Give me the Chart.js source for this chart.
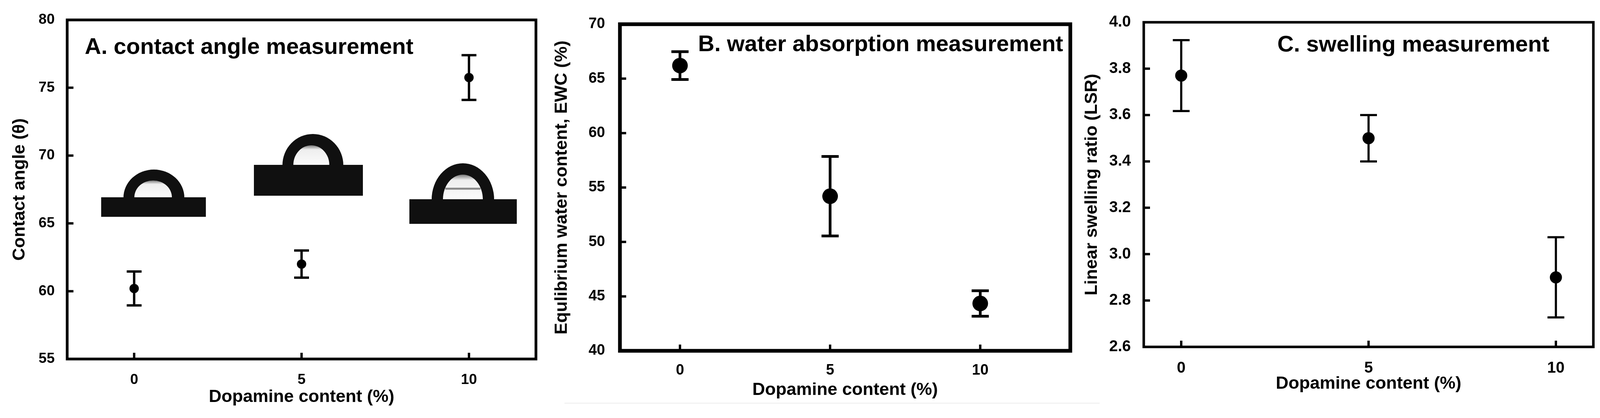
<!DOCTYPE html>
<html>
<head>
<meta charset="utf-8">
<script src="https://cdn.jsdelivr.net/npm/chart.js@4.4.1/dist/chart.umd.min.js"></script>
<style>
    body { margin: 0; background: #fff; }
    #wrap { position: relative; width: 4108px; height: 1070px; overflow: hidden; background: #fff; }
    canvas { position: absolute; top: 0; }
    #chartA { left: 0; }
    #chartB { left: 1400px; }
    #chartC { left: 2760px; }
    .scanline { position: absolute; left: 1445px; top: 1031px; width: 1370px; height: 2px; background: #ececec; }
</style>
</head>
<body>
<div id="wrap">
    <canvas id="chartA" width="1400" height="1070"></canvas>
    <canvas id="chartB" width="1360" height="1070"></canvas>
    <canvas id="chartC" width="1348" height="1070"></canvas>
    <div class="scanline"></div>
</div>
<script>
// data
const dopamine = [0, 5, 10];
const xTickValues = [0, 5, 10];

const contactAngle = [60.2, 62.0, 75.75];
const contactAngleErr = [1.25, 1.0, 1.65];
const angleTicks = [55, 60, 65, 70, 75, 80];

const waterContent = [66.2, 54.2, 44.35];
const waterContentErr = [1.28, 3.65, 1.17];
const ewcTicks = [40, 45, 50, 55, 60, 65, 70];

const swellingRatio = [3.77, 3.50, 2.90];
const swellingRatioErr = [0.153, 0.10, 0.173];
const lsrTicks = [2.6, 2.8, 3.0, 3.2, 3.4, 3.6, 3.8, 4.0];

const FONT = "'Liberation Sans', Arial, Helvetica, sans-serif";

// droplet photos of panel A (offsets from the plot area corner)
const dropletInsets = [
    { rect: [87, 454, 355, 504], cx: 222, rx: 78, ry: 72, icx: 220, irx: 48, iry: 43 },
    { rect: [478, 371, 757, 450], cx: 629, rx: 78, ry: 80, icx: 625, irx: 46, iry: 50 },
    { rect: [876, 459, 1151, 522], cx: 1013, rx: 80, ry: 93, icx: 1013, irx: 51, iry: 63, streak: 27 }
];

const panelDecor = {
    id: "panelDecor",
    beforeDatasetsDraw(chart, args, opts) {
        const ctx = chart.ctx, a = chart.chartArea;
        const xs = chart.scales.x, ys = chart.scales.y;
        ctx.save();
        if (opts.insets) {
            dropletInsets.forEach(d => {
                const x0 = a.left + d.rect[0], y0 = a.top + d.rect[1];
                ctx.fillStyle = "#101010";
                ctx.fillRect(x0, y0, d.rect[2] - d.rect[0], d.rect[3] - d.rect[1]);
                ctx.beginPath();
                ctx.ellipse(a.left + d.cx, y0 + 1, d.rx, d.ry, 0, Math.PI, 2 * Math.PI);
                ctx.fill();
                const g = ctx.createLinearGradient(0, y0 - d.iry, 0, y0);
                g.addColorStop(0, "#7a7a7a");
                g.addColorStop(0.22, "#eeeeee");
                g.addColorStop(1, "#fbfbfb");
                ctx.fillStyle = g;
                ctx.beginPath();
                ctx.ellipse(a.left + d.icx, y0, d.irx, d.iry, 0, Math.PI, 2 * Math.PI);
                ctx.fill();
                if (d.streak) {
                    ctx.strokeStyle = "#888";
                    ctx.lineWidth = 5;
                    ctx.beginPath();
                    ctx.moveTo(a.left + d.icx - d.irx + 6, y0 - d.streak);
                    ctx.lineTo(a.left + d.icx + d.irx - 6, y0 - d.streak);
                    ctx.stroke();
                }
            });
        }
        // error bars
        const ds = chart.data.datasets[0];
        ctx.strokeStyle = "#000";
        ctx.lineWidth = opts.errWidth;
        ctx.lineCap = "butt";
        ds.data.forEach((p, i) => {
            const px = xs.getPixelForValue(p.x);
            const top = ys.getPixelForValue(p.y + ds.errors[i]);
            const bot = ys.getPixelForValue(p.y - ds.errors[i]);
            ctx.beginPath();
            ctx.moveTo(px, top);
            ctx.lineTo(px, bot);
            ctx.moveTo(px - opts.capHalf, top);
            ctx.lineTo(px + opts.capHalf, top);
            ctx.moveTo(px - opts.capHalf, bot);
            ctx.lineTo(px + opts.capHalf, bot);
            ctx.stroke();
        });
        ctx.restore();
    },
    afterDraw(chart, args, opts) {
        const ctx = chart.ctx, a = chart.chartArea;
        const xs = chart.scales.x, ys = chart.scales.y;
        ctx.save();
        ctx.strokeStyle = "#000";
        ctx.lineWidth = opts.frame;
        ctx.strokeRect(a.left, a.top, a.right - a.left, a.bottom - a.top);
        // inward tick marks
        ctx.lineWidth = 6;
        ctx.beginPath();
        ys.ticks.forEach(t => {
            const py = ys.getPixelForValue(t.value);
            ctx.moveTo(a.left, py);
            ctx.lineTo(a.left + 16, py);
        });
        xs.ticks.forEach(t => {
            const px = xs.getPixelForValue(t.value);
            ctx.moveTo(px, a.bottom);
            ctx.lineTo(px, a.bottom - 16);
        });
        ctx.stroke();
        // panel label
        ctx.fillStyle = "#000";
        ctx.font = "bold 58px " + FONT;
        ctx.textBaseline = "alphabetic";
        ctx.textAlign = "left";
        ctx.fillText(opts.label, opts.labelX, opts.labelY);
        ctx.restore();
    }
};

function makePanel(id, values, errors, yTicks, yTitle, lay) {
    return new Chart(id, {
        type: "scatter",
        data: {
            datasets: [{
                data: dopamine.map((d, i) => ({ x: d, y: values[i] })),
                errors: errors,
                backgroundColor: "#000",
                borderWidth: 0,
                pointRadius: lay.radius,
                pointHoverRadius: lay.radius
            }]
        },
        options: {
            responsive: false,
            animation: false,
            devicePixelRatio: 1,
            events: [],
            layout: { padding: { top: lay.top, right: lay.right, bottom: 0, left: 0 } },
            plugins: {
                legend: { display: false },
                tooltip: { enabled: false },
                panelDecor: {
                    frame: lay.frame,
                    errWidth: lay.errWidth,
                    capHalf: lay.capHalf,
                    label: lay.label,
                    labelX: lay.labelX,
                    labelY: lay.labelY,
                    insets: lay.insets
                }
            },
            scales: {
                x: {
                    type: "linear",
                    position: "bottom",
                    min: lay.xMin,
                    max: lay.xMax,
                    afterBuildTicks: s => { s.ticks = xTickValues.map(v => ({ value: v })); },
                    afterFit: s => { s.height = 1070 - lay.bottom; },
                    grid: { display: false },
                    border: { display: false },
                    ticks: {
                        color: "#000",
                        padding: lay.xTickPad,
                        maxRotation: 0,
                        autoSkip: false,
                        font: { family: FONT, size: lay.tickSize, weight: "bold" }
                    },
                    title: {
                        display: true,
                        text: "Dopamine content (%)",
                        color: "#000",
                        font: { family: FONT, size: 45, weight: "bold" },
                        padding: { top: 0, bottom: lay.xTitlePad }
                    }
                },
                y: {
                    min: yTicks[0],
                    max: yTicks[yTicks.length - 1],
                    afterBuildTicks: s => { s.ticks = yTicks.map(v => ({ value: v })); },
                    afterFit: s => { s.width = lay.left; },
                    grid: { display: false },
                    border: { display: false },
                    ticks: {
                        color: "#000",
                        padding: lay.yTickPad,
                        autoSkip: false,
                        font: { family: FONT, size: lay.tickSize, weight: "bold" },
                        callback: v => lay.decimals ? v.toFixed(lay.decimals) : v
                    },
                    title: {
                        display: true,
                        text: yTitle,
                        color: "#000",
                        font: { family: FONT, size: 45, weight: "bold" },
                        padding: { top: lay.yTitlePad, bottom: 0 }
                    }
                }
            }
        },
        plugins: [panelDecor]
    });
}

makePanel("chartA", contactAngle, contactAngleErr, angleTicks, "Contact angle (θ)", {
    left: 172, top: 51, bottom: 919, right: 28, xMin: -2, xMax: 12,
    radius: 12, tickSize: 37, xTickPad: 24, yTickPad: 24, xTitlePad: 26, yTitlePad: 24,
    frame: 7, errWidth: 6, capHalf: 19, decimals: 0, insets: true,
    label: "A. contact angle measurement", labelX: 217, labelY: 138
});

makePanel("chartB", waterContent, waterContentErr, ewcTicks, "Equlibrium water content, EWC (%)", {
    left: 187, top: 62, bottom: 898, right: 13, xMin: -2, xMax: 13,
    radius: 20, tickSize: 38, xTickPad: 20, yTickPad: 30, xTitlePad: 44, yTitlePad: 12,
    frame: 9.5, errWidth: 7, capHalf: 22, decimals: 0, insets: false,
    label: "B. water absorption measurement", labelX: 387, labelY: 131
});

makePanel("chartC", swellingRatio, swellingRatioErr, lsrTicks, "Linear swelling ratio (LSR)", {
    left: 168, top: 57, bottom: 888, right: 29, xMin: -1, xMax: 11,
    radius: 15.5, tickSize: 40, xTickPad: 23, yTickPad: 25, xTitlePad: 60, yTitlePad: 9,
    frame: 6.5, errWidth: 5.5, capHalf: 21.5, decimals: 1, insets: false,
    label: "C. swelling measurement", labelX: 510, labelY: 132
});
</script>
</body>
</html>
